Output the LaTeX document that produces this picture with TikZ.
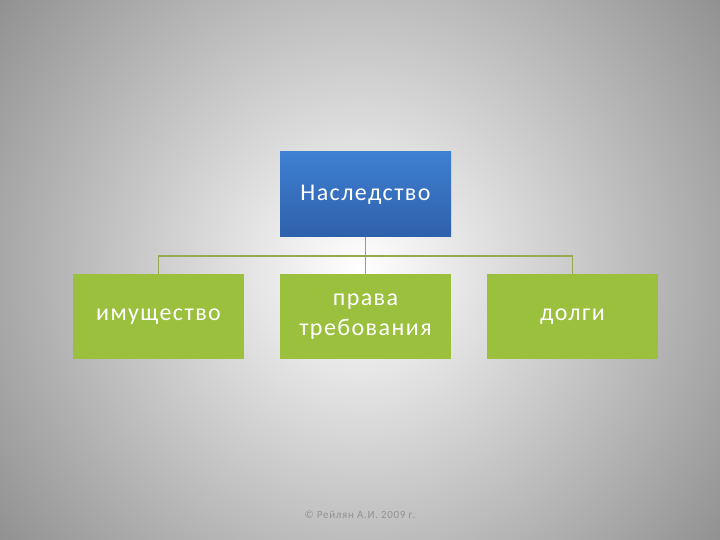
\documentclass[tikz,border=0pt]{standalone}
\usepackage{fontspec}
\setmainfont{Carlito}[LetterSpace=6]
\begin{document}
\begin{tikzpicture}[x=1pt,y=1pt,
  conn/.style={draw={rgb,255:red,150;green,170;blue,80},line width=1.8pt}]
\definecolor{gfill}{RGB}{154,192,62}
\definecolor{bfill}{RGB}{54,110,190}
\useasboundingbox (0,0) rectangle (720,540);
\fill[white] (0,0) rectangle (720,540);
\clip (0,0) rectangle (720,540);
\shade[inner color=white,outer color=black!45,shading=radial] (360,270) circle (470);
\begin{scope}[every node/.style={minimum width=171pt,minimum height=85pt,align=center,text=white,font=\fontsize{24}{30}\selectfont,inner sep=0pt}]
\node[fill=bfill,top color={rgb,255:red,62;green,128;blue,210},bottom color={rgb,255:red,46;green,96;blue,170}] (top) at (365.5,345.5) {Наследство};
\node[fill=gfill] (a) at (158.5,223.5) {имущество};
\node[fill=gfill] (b) at (365.5,223.5) {права\\требования};
\node[fill=gfill] (c) at (572.5,223.5) {долги};
\end{scope}
\coordinate (h) at (365.5,284);
\draw[conn] (top.south) -- (h);
\draw[conn] (a.north) -- (a.north |- h) -- (c.north |- h) -- (c.north);
\draw[conn] (h) -- (b.north);
\node[text=gray!85,font=\fontsize{11}{13}\selectfont] (f) at (360,25) {© Рейлян А.И. 2009 г.};
\end{tikzpicture}
\end{document}
